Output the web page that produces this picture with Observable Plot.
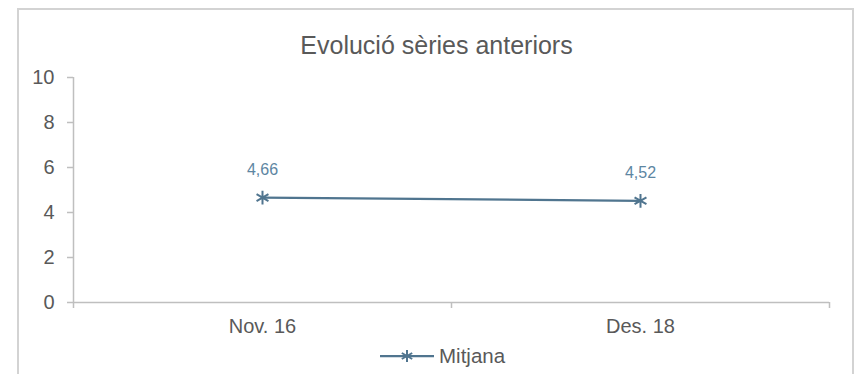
<!DOCTYPE html>
<html>
<head>
<meta charset="utf-8">
<script src="https://cdn.jsdelivr.net/npm/d3@7"></script>
<script src="https://cdn.jsdelivr.net/npm/@observablehq/plot@0.6"></script>
<style>
  html, body { margin: 0; padding: 0; background: #fff; }
  #wrap { position: relative; width: 860px; height: 374px; overflow: hidden; font-family: "Liberation Sans", Arial, sans-serif; }
  #frame { position: absolute; left: 17px; top: 8px; width: 837px; height: 400px; border: 2px solid #d3d3d3; box-sizing: border-box; }
  #title { position: absolute; left: 17px; width: 839px; top: 29px; line-height: 32px; text-align: center; font-size: 25px; color: #595959; }
  #chart { position: absolute; left: 0; top: 0; }
  #legend { position: absolute; top: 343px; left: 380px; height: 26px; display: flex; align-items: center; font-size: 20.5px; color: #595959; }
  #legend svg { display: block; margin-right: 5px; }
</style>
</head>
<body>
<div id="wrap">
  <div id="frame"></div>
  <div id="chart"></div>
  <div id="title"></div>
  <div id="legend"></div>
</div>
<script>
const title = "Evolució sèries anteriors";
const categories = ["Nov. 16", "Des. 18"];
const values = [4.66, 4.52];
const seriesName = "Mitjana";
const yTicks = [0, 2, 4, 6, 8, 10];

const lineColor = "#50758f";
const labelColor = "#5d86a2";
const axisColor = "#bfbfbf";
const textColor = "#595959";

const fmt = v => v.toFixed(2).replace(".", ",");
const data = categories.map((c, i) => ({pos: i + 0.5, cat: c, v: values[i], label: fmt(values[i])}));

document.getElementById("title").textContent = title;

const chart = Plot.plot({
  width: 860,
  height: 374,
  marginLeft: 73,
  marginRight: 31,
  marginTop: 77,
  marginBottom: 72,
  style: {fontFamily: '"Liberation Sans", Arial, sans-serif', color: textColor, background: "transparent", overflow: "visible"},
  x: {domain: [0, categories.length], axis: null},
  y: {domain: [0, 10], axis: null},
  marks: [
    Plot.ruleX([0], {stroke: axisColor, strokeWidth: 1.5}),
    Plot.ruleY([0], {stroke: axisColor, strokeWidth: 1.5}),
    Plot.axisX({ticks: d3.range(categories.length + 1), tickSize: 6, tickFormat: () => "", label: null, stroke: axisColor, strokeWidth: 1.5}),
    Plot.axisX({ticks: data.map(d => d.pos), tickSize: 0, tickPadding: 16, tickFormat: d => categories[Math.floor(d)], label: null, fontSize: 20, fill: textColor}),
    Plot.axisY({ticks: yTicks, tickSize: 6, tickPadding: 13, fontSize: 20, label: null, stroke: axisColor, strokeWidth: 1.5, fill: textColor}),
    Plot.line(data, {x: "pos", y: "v", stroke: lineColor, strokeWidth: 2.25}),
    Plot.dot(data, {x: "pos", y: "v", symbol: "asterisk", r: 6.5, stroke: lineColor, strokeWidth: 2}),
    Plot.text(data, {x: "pos", y: "v", text: "label", dy: -28, fill: labelColor, fontSize: 16})
  ]
});
document.getElementById("chart").appendChild(chart);

// legend
const leg = document.getElementById("legend");
const ns = "http://www.w3.org/2000/svg";
const s = document.createElementNS(ns, "svg");
s.setAttribute("width", 54); s.setAttribute("height", 26);
const sym = d3.select(s);
sym.append("line").attr("x1", 0).attr("x2", 54).attr("y1", 13).attr("y2", 13).attr("stroke", lineColor).attr("stroke-width", 2.25);
const r = 6;
const sx = r * Math.sqrt(3) / 2;
sym.append("path").attr("transform", "translate(27,13)")
  .attr("d", `M0,${-r}L0,${r}M${-sx},${-r/2}L${sx},${r/2}M${-sx},${r/2}L${sx},${-r/2}`)
  .attr("stroke", lineColor).attr("stroke-width", 2).attr("fill", "none");
leg.appendChild(s);
const lt = document.createElement("span");
lt.textContent = seriesName;
leg.appendChild(lt);
</script>
</body>
</html>
